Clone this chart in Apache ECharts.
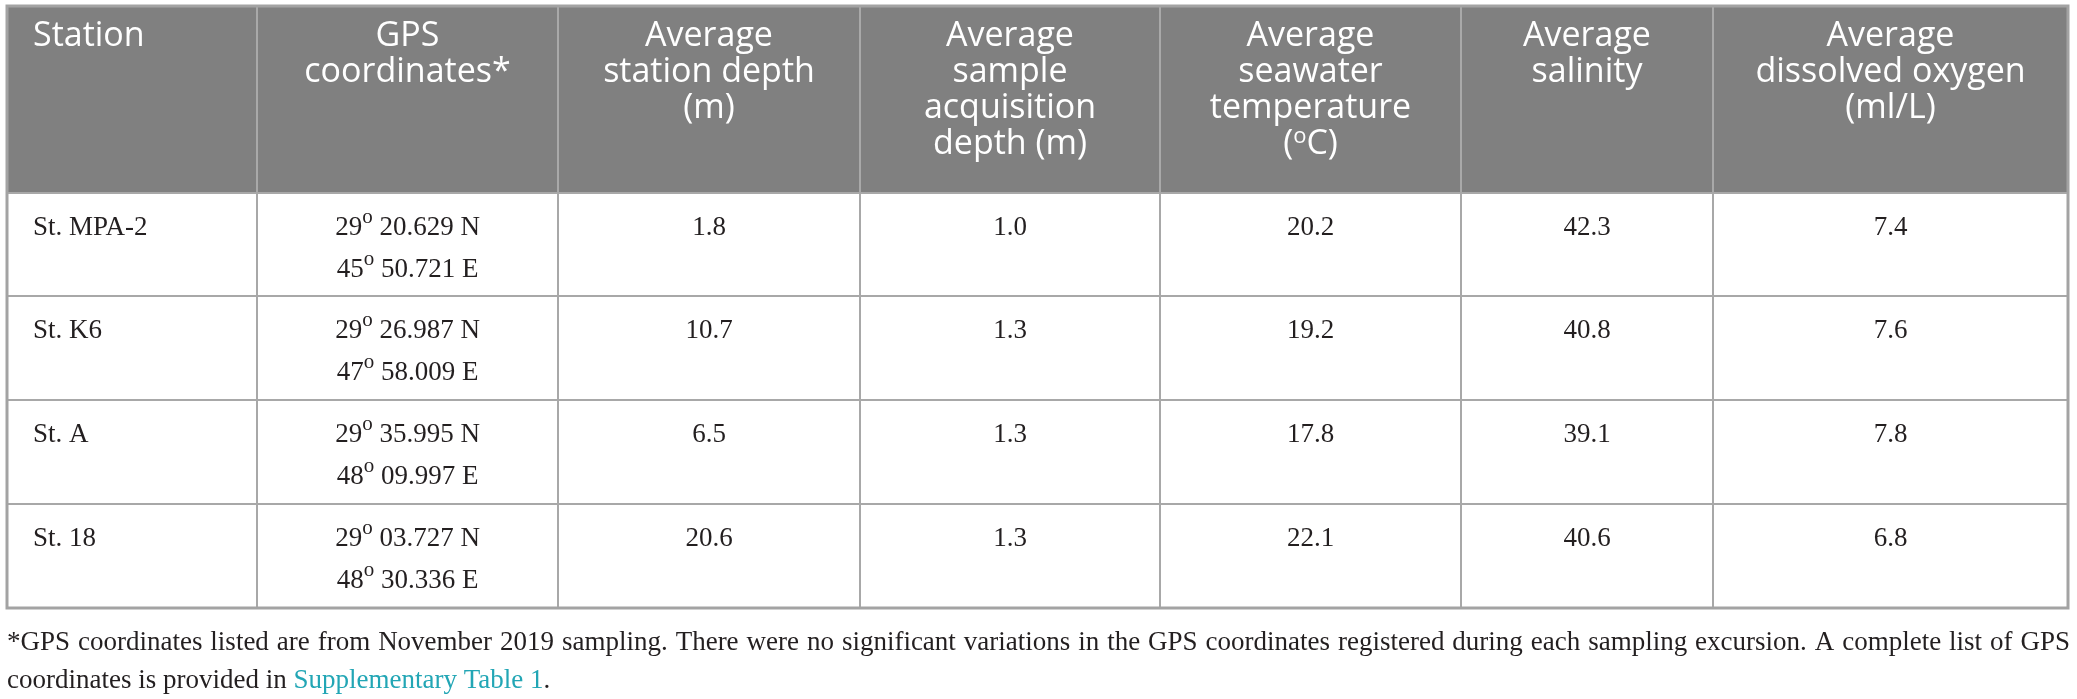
<!DOCTYPE html>
<html>
<head>
<meta http-equiv="Content-Type" content="text/html; charset=UTF-8">
<title>Station parameters</title>
<script type="text/javascript" src="https://cdn.jsdelivr.net/npm/echarts@6.0.0/dist/echarts.min.js"></script>
<style>
    html, body { margin: 0; padding: 0; background: #fff; }
    #main { width: 2077px; height: 699px; }
</style>
</head>
<body>
    <div id="main"></div>
    <script type="text/javascript">
        // table content
        var headers = [
            ['Station'],
            ['GPS', 'coordinates*'],
            ['Average', 'station depth', '(m)'],
            ['Average', 'sample', 'acquisition', 'depth (m)'],
            ['Average', 'seawater', 'temperature', '({sup|o}C)'],
            ['Average', 'salinity'],
            ['Average', 'dissolved oxygen', '(ml/L)']
        ];
        var stations = ['St. MPA-2', 'St. K6', 'St. A', 'St. 18'];
        var latDeg = ['29', '29', '29', '29'];
        var latMin = ['20.629', '26.987', '35.995', '03.727'];
        var lonDeg = ['45', '47', '48', '48'];
        var lonMin = ['50.721', '58.009', '09.997', '30.336'];
        var stationDepth = [1.8, 10.7, 6.5, 20.6];
        var sampleDepth = [1.0, 1.3, 1.3, 1.3];
        var seawaterTemp = [20.2, 19.2, 17.8, 22.1];
        var salinity = [42.3, 40.8, 39.1, 40.6];
        var dissolvedOxygen = [7.4, 7.6, 7.8, 6.8];
        var noteLine1 = '*GPS coordinates listed are from November 2019 sampling. There were no significant variations in the GPS coordinates registered during each sampling excursion. A complete list of GPS';
        var noteLine2a = 'coordinates is provided in ';
        var noteLink = 'Supplementary Table 1';
        var noteLine2b = '.';

        // layout (table units = px inside the grid)
        var colWidths = [250, 301, 302, 300, 301, 252, 355];
        var rowHeights = [187, 103, 104, 104, 104];
        var colEdges = [0], rowEdges = [0];
        colWidths.forEach(function (w, i) { colEdges.push(colEdges[i] + w); });
        rowHeights.forEach(function (h, i) { rowEdges.push(rowEdges[i] + h); });
        var totalW = colEdges[colEdges.length - 1];
        var totalH = rowEdges[rowEdges.length - 1];

        var bodyFont = 'Liberation Serif';
        var headFont = 'Open Sans';
        var textColor = '#231f20';

        function cellText(c, r) {
            if (r === 0) return headers[c].join('\n');
            var i = r - 1;
            switch (c) {
                case 0: return stations[i];
                case 1: return latDeg[i] + '{sup|o} ' + latMin[i] + ' N\n' + lonDeg[i] + '{sup|o} ' + lonMin[i] + ' E';
                case 2: return stationDepth[i].toFixed(1);
                case 3: return sampleDepth[i].toFixed(1);
                case 4: return seawaterTemp[i].toFixed(1);
                case 5: return salinity[i].toFixed(1);
                default: return dissolvedOxygen[i].toFixed(1);
            }
        }

        var cells = [];
        for (var r = 0; r < rowHeights.length; r++) {
            for (var c = 0; c < colWidths.length; c++) {
                cells.push([c, r]);
            }
        }

        function renderCell(params, api) {
            var c = api.value(0), r = api.value(1);
            var p0 = api.coord([colEdges[c], rowEdges[r]]);
            var p1 = api.coord([colEdges[c + 1], rowEdges[r + 1]]);
            var head = r === 0;
            var alignLeft = c === 0;
            var tx = alignLeft ? p0[0] + 26 : (p0[0] + p1[0]) / 2;
            var ty = p0[1] + (head ? 12 : 14);
            var txtColor = head ? '#ffffff' : textColor;
            var fs = head ? 34 : 27;
            var lh = head ? 36 : 42;
            var supStyle = head
                ? { fontSize: 22, fontFamily: headFont, lineHeight: 31, verticalAlign: 'top', textVerticalAlign: 'top', fill: txtColor, textFill: txtColor }
                : { fontSize: 21, fontFamily: bodyFont, lineHeight: 28, verticalAlign: 'top', textVerticalAlign: 'top', fill: txtColor, textFill: txtColor };
            return {
                type: 'group',
                children: [{
                    type: 'rect',
                    shape: { x: p0[0], y: p0[1], width: p1[0] - p0[0], height: p1[1] - p0[1] },
                    style: { fill: head ? '#808080' : '#ffffff', stroke: head ? '#a9a9a9' : '#a8a8a8', lineWidth: 2 }
                }, {
                    type: 'text',
                    style: {
                        text: cellText(c, r),
                        x: tx,
                        y: ty,
                        fill: txtColor,
                        textFill: txtColor,
                        fontSize: fs,
                        fontFamily: head ? headFont : bodyFont,
                        lineHeight: lh,
                        align: alignLeft ? 'left' : 'center',
                        textAlign: alignLeft ? 'left' : 'center',
                        verticalAlign: 'top',
                        textVerticalAlign: 'top',
                        rich: {
                            sup: supStyle
                        }
                    }
                }]
            };
        }

        function renderFrame(params, api) {
            var p0 = api.coord([0, 0]);
            var p1 = api.coord([totalW, totalH]);
            return {
                type: 'rect',
                shape: { x: p0[0], y: p0[1], width: p1[0] - p0[0], height: p1[1] - p0[1] },
                style: { fill: 'none', stroke: '#a3a3a3', lineWidth: 3 }
            };
        }

        // footnote: justified first line, measured word by word
        var gridLeft = 7, gridTop = 6;
        var ctx = document.createElement('canvas').getContext('2d');
        var noteSize = 27;
        var noteTarget = 2063;
        var words = noteLine1.split(' ');
        function measure(size) {
            ctx.font = size + 'px "' + bodyFont + '"';
            return words.map(function (w) { return ctx.measureText(w).width; });
        }
        var ww = measure(noteSize);
        var wordSum = ww.reduce(function (a, b) { return a + b; }, 0);
        var spaceW = ctx.measureText(' ').width;
        var natural = wordSum + spaceW * (words.length - 1);
        if (natural > noteTarget - 4) {
            noteSize = noteSize * (noteTarget - 4) / natural;
            ww = measure(noteSize);
            wordSum = ww.reduce(function (a, b) { return a + b; }, 0);
        }
        var gap = (noteTarget - wordSum) / (words.length - 1);
        var noteY1 = gridTop + totalH + 35;
        var noteY2 = noteY1 + 38;
        var graphics = [];
        var cx = gridLeft;
        words.forEach(function (w, i) {
            graphics.push({
                type: 'text',
                x: cx,
                y: noteY1,
                silent: true,
                style: {
                    text: w, fill: textColor, textFill: textColor,
                    fontSize: noteSize, fontFamily: bodyFont,
                    align: 'left', textAlign: 'left',
                    verticalAlign: 'middle', textVerticalAlign: 'middle'
                }
            });
            cx += ww[i] + gap;
        });
        graphics.push({
            type: 'text',
            x: gridLeft,
            y: noteY2,
            silent: true,
            style: {
                text: '{t|' + noteLine2a + '}{l|' + noteLink + '}{t|' + noteLine2b + '}',
                fontSize: noteSize, fontFamily: bodyFont,
                fill: textColor, textFill: textColor,
                align: 'left', textAlign: 'left',
                verticalAlign: 'middle', textVerticalAlign: 'middle',
                rich: {
                    t: { fontSize: noteSize, fontFamily: bodyFont, fill: textColor, textFill: textColor },
                    l: { fontSize: noteSize, fontFamily: bodyFont, fill: '#22a6b5', textFill: '#22a6b5' }
                }
            }
        });

        var myChart = echarts.init(document.getElementById('main'));
        myChart.setOption({
            animation: false,
            grid: { left: gridLeft, top: gridTop, width: totalW, height: totalH },
            xAxis: { type: 'value', min: 0, max: totalW, show: false },
            yAxis: { type: 'value', min: 0, max: totalH, inverse: true, show: false },
            graphic: graphics,
            series: [{
                type: 'custom',
                renderItem: renderCell,
                data: cells,
                clip: false,
                silent: true
            }, {
                type: 'custom',
                renderItem: renderFrame,
                data: [[0, 0]],
                clip: false,
                silent: true,
                z: 5
            }]
        });
    </script>
</body>
</html>
